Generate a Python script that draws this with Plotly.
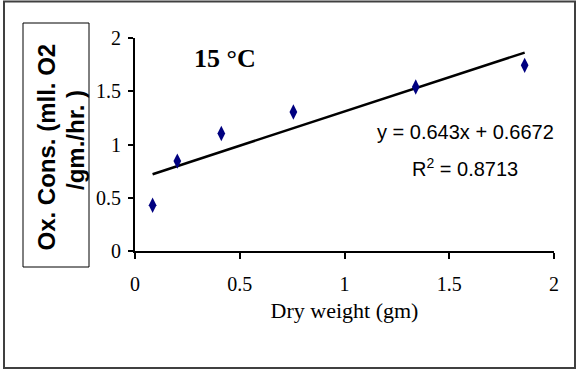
import plotly.graph_objects as go

# Data
dry_weight = [0.084, 0.202, 0.412, 0.756, 1.340, 1.860]
ox_cons = [0.43, 0.844, 1.103, 1.305, 1.54, 1.743]
slope = 0.643
intercept = 0.6672
r_squared = 0.8713
x_ticks = [0, 0.5, 1, 1.5, 2]
x_tick_labels = ["0", "0.5", "1", "1.5", "2"]
y_ticks = [0, 0.5, 1, 1.5, 2]
y_tick_labels = ["0", "0.5", "1", "1.5", "2"]
y_title_lines = ["Ox. Cons. (mll. O2", "/gm./hr. )"]

W, H = 579, 371
L, R, T, B = 135, 25, 38, 120
PW, PH = W - L - R, H - T - B


def px(xp):
    return (xp - L) / PW


def py(yp):
    return (H - B - yp) / PH


trend_x = [min(dry_weight), max(dry_weight)]
trend_y = [slope * v + intercept for v in trend_x]

fig = go.Figure()
fig.add_trace(go.Scatter(x=trend_x, y=trend_y, mode="lines",
                         line=dict(color="black", width=2.5),
                         showlegend=False, hoverinfo="skip"))
fig.add_trace(go.Scatter(x=dry_weight, y=ox_cons, mode="markers",
                         marker=dict(symbol="diamond-tall", size=11, color="#000080"),
                         showlegend=False))

serif = "Liberation Serif"
sans = "Liberation Sans"

fig.update_layout(
    width=W, height=H,
    margin=dict(l=L, r=R, t=T, b=B),
    paper_bgcolor="white", plot_bgcolor="white",
    showlegend=False,
    xaxis=dict(range=[0, 2], tickvals=x_ticks, ticktext=x_tick_labels,
               showgrid=False, zeroline=False, showline=True,
               linecolor="black", linewidth=2, ticks="outside", ticklen=6,
               tickwidth=2, tickcolor="black",
               tickfont=dict(family=serif, size=20, color="black"),
               ticklabelstandoff=8,
               title=dict(text="Dry weight (gm)",
                          font=dict(family=serif, size=22, color="black"),
                          standoff=9)),
    yaxis=dict(range=[0, 2], tickvals=y_ticks, ticktext=y_tick_labels,
               showgrid=False, zeroline=False, showline=True,
               linecolor="black", linewidth=2, ticks="outside", ticklen=5,
               tickwidth=2, tickcolor="black",
               tickfont=dict(family=serif, size=20, color="black"),
               ticklabelstandoff=3),
    shapes=[
        dict(type="rect", xref="paper", yref="paper",
             x0=px(4), x1=px(575), y0=py(368), y1=py(1.5),
             line=dict(color="#404040", width=2), layer="below"),
        dict(type="rect", xref="paper", yref="paper",
             x0=px(23), x1=px(89), y0=py(267), y1=py(23),
             line=dict(color="black", width=1), layer="below"),
    ],
    annotations=[
        dict(text=f"<b>{y_title_lines[0]}</b>", xref="paper", yref="paper",
             x=px(46), y=py(147.5), xanchor="center", yanchor="middle",
             showarrow=False, textangle=-90,
             font=dict(family=sans, size=24, color="black")),
        dict(text=f"<b>{y_title_lines[1]}</b>", xref="paper", yref="paper",
             x=px(75), y=py(140), xanchor="center", yanchor="middle",
             showarrow=False, textangle=-90,
             font=dict(family=sans, size=24, color="black")),
        dict(text="<b>15 °C</b>", xref="paper", yref="paper",
             x=px(225), y=py(58.5), xanchor="center", yanchor="middle",
             showarrow=False,
             font=dict(family=serif, size=26, color="black")),
        dict(text=f"y = {slope}x + {intercept}", xref="paper", yref="paper",
             x=px(465), y=py(132), xanchor="center", yanchor="middle",
             showarrow=False,
             font=dict(family=sans, size=20, color="black")),
        dict(text=f"R<sup>2</sup> = {r_squared}", xref="paper", yref="paper",
             x=px(465), y=py(167), xanchor="center", yanchor="middle",
             showarrow=False,
             font=dict(family=sans, size=20, color="black")),
    ],
)

fig.write_html("out.html", config={"displayModeBar": False},
               post_script="document.body.style.margin='0';document.body.style.overflow='hidden';")
